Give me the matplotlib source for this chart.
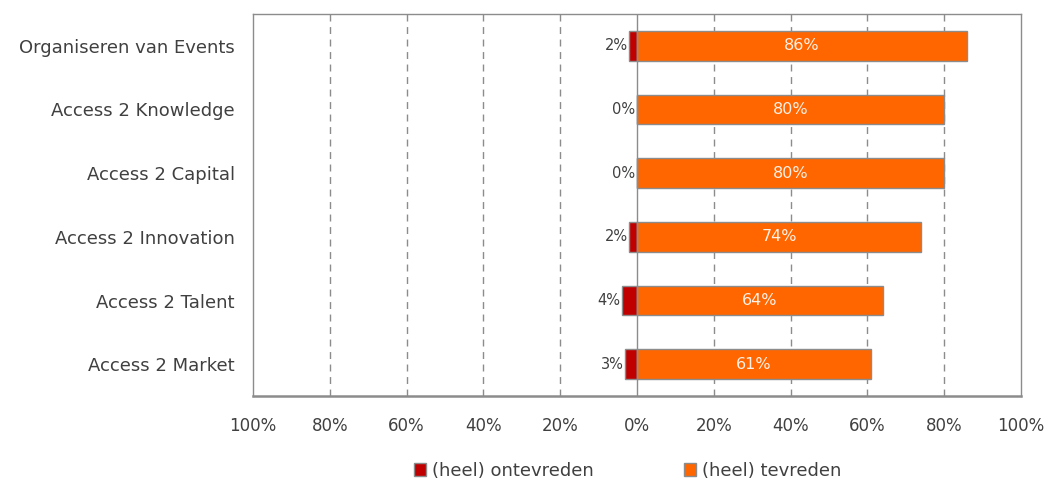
import matplotlib.pyplot as plt
from matplotlib.ticker import FixedLocator

plt.rcParams['font.family'] = ['DejaVu Sans']

categories = ['Organiseren van Events', 'Access 2 Knowledge', 'Access 2 Capital',
              'Access 2 Innovation', 'Access 2 Talent', 'Access 2 Market']
ontevreden = [2, 0, 0, 2, 4, 3]
tevreden = [86, 80, 80, 74, 64, 61]
ticks = [-100, -80, -60, -40, -20, 0, 20, 40, 60, 80, 100]
tick_labels = ['100%', '80%', '60%', '40%', '20%', '0%', '20%', '40%', '60%', '80%', '100%']

red = '#c00000'
orange = '#ff6600'
edge = '#8c8c8c'
text_col = '#404040'

fig = plt.figure(figsize=(10.51, 4.82), dpi=100)
ax = fig.add_axes([253 / 1051, 1 - 396 / 482, 768 / 1051, 382 / 482])

y = list(range(len(categories)))[::-1]
h = 0.47

ax.barh(y, [-v for v in ontevreden], height=h, color=red, edgecolor=edge, linewidth=1,
        label='(heel) ontevreden', zorder=3)
ax.barh(y, tevreden, height=h, color=orange, edgecolor=edge, linewidth=1,
        label='(heel) tevreden', zorder=3)

for yi, neg, pos in zip(y, ontevreden, tevreden):
    ax.text(-neg - 0.4, yi, f'{neg}%', ha='right', va='center', fontsize=10.5,
            color=text_col, zorder=4)
    ax.text(pos / 2, yi, f'{pos}%', ha='center', va='center', fontsize=11.5,
            color='#fdf0e6', zorder=4)

ax.set_xlim(-100, 100)
ax.set_ylim(-0.5, len(categories) - 0.5)
ax.xaxis.set_major_locator(FixedLocator(ticks))
ax.set_xticklabels(tick_labels, fontsize=12, color=text_col)
ax.set_yticks(y)
ax.set_yticklabels(categories, fontsize=13, color=text_col)
ax.tick_params(axis='x', length=0, pad=15)
ax.tick_params(axis='y', length=0, pad=13)

for t in ticks[1:-1]:
    if t != 0:
        ax.axvline(t, color='#8c8c8c', linestyle=(0, (5, 4)), linewidth=1, zorder=1)
ax.axvline(0, color='#8c8c8c', linewidth=1, zorder=4)

for side in ['top', 'left', 'right']:
    ax.spines[side].set_color('#8c8c8c')
    ax.spines[side].set_linewidth(1)
ax.spines['bottom'].set_color('#8c8c8c')
ax.spines['bottom'].set_linewidth(1.8)

ax.legend(loc='center', bbox_to_anchor=(0.4876, -0.196), ncol=2, frameon=False,
          fontsize=13, handlelength=0.7, handleheight=0.7, handletextpad=0.3,
          columnspacing=5.0, labelcolor=text_col)

fig.savefig('out.png', dpi=100)
